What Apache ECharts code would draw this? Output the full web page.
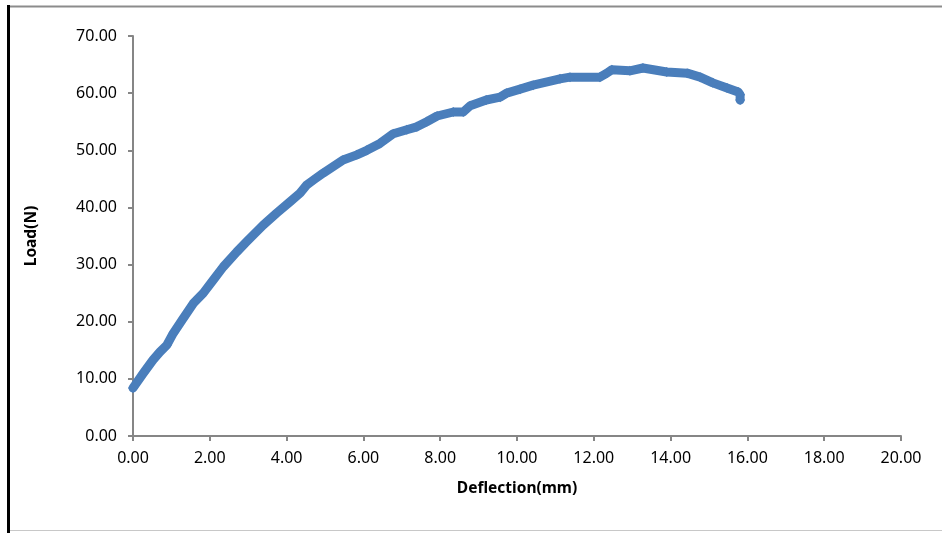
<!DOCTYPE html>
<html>
<head>
<meta charset="utf-8">
<script src="https://cdn.jsdelivr.net/npm/echarts@6/dist/echarts.min.js"></script>
<style>
  html, body { margin: 0; padding: 0; background: #fff; }
  #chart { width: 942px; height: 533px; }
</style>
</head>
<body>
<div id="chart"></div>
<script>
// 读图得到的数据：挠度(mm) 与 载荷(N)
const deflection = [0.00, 0.27, 0.52, 0.70, 0.88, 1.05, 1.31, 1.57, 1.83, 2.09, 2.35, 2.70, 2.96, 3.39, 3.74, 4.09, 4.35, 4.52, 4.70, 4.95, 5.47, 5.83, 6.09, 6.43, 6.78, 7.13, 7.39, 7.65, 7.92, 8.34, 8.60, 8.78, 9.20, 9.56, 9.73, 10.08, 10.42, 11.12, 11.38, 12.16, 12.34, 12.47, 12.94, 13.28, 13.90, 14.43, 14.77, 15.10, 15.47, 15.76, 15.81, 15.81]
const load = [8.4, 11.0, 13.3, 14.7, 15.9, 18.0, 20.6, 23.2, 25.0, 27.3, 29.6, 32.2, 34.0, 36.9, 39.0, 41.0, 42.5, 43.9, 44.8, 46.0, 48.3, 49.2, 50.0, 51.2, 52.9, 53.6, 54.1, 55.0, 56.0, 56.7, 56.7, 57.8, 58.8, 59.3, 60.0, 60.7, 61.4, 62.5, 62.8, 62.8, 63.5, 64.1, 63.9, 64.4, 63.7, 63.5, 62.8, 61.8, 60.9, 60.2, 59.7, 58.8]

const xName = 'Deflection(mm)'
const yName = 'Load(N)'

const chart = echarts.init(document.getElementById('chart'))

const points = deflection.map((x, i) => [x, load[i]])

const axisLineGray = '#868686'
const font = 'Noto Sans'

chart.setOption({
  animation: false,
  grid: { left: 133, right: 41, top: 36, bottom: 97 },
  xAxis: {
    type: 'value',
    min: 0, max: 20, interval: 2,
    name: xName,
    nameLocation: 'middle',
    nameGap: 45,
    nameTextStyle: { fontFamily: font, fontSize: 15.5, fontWeight: 'bold', color: '#000' },
    axisLine: { show: true, lineStyle: { color: axisLineGray, width: 2 } },
    axisTick: { show: true, length: 5, lineStyle: { color: axisLineGray, width: 2 } },
    axisLabel: {
      margin: 14,
      fontFamily: font, fontSize: 16, color: '#000',
      formatter: v => v.toFixed(2)
    },
    splitLine: { show: false }
  },
  yAxis: {
    type: 'value',
    min: 0, max: 70, interval: 10,
    name: yName,
    nameLocation: 'middle',
    nameGap: 93,
    nameTextStyle: { fontFamily: font, fontSize: 15.5, fontWeight: 'bold', color: '#000' },
    axisLine: { show: true, lineStyle: { color: axisLineGray, width: 2 } },
    axisTick: { show: true, length: 5, lineStyle: { color: axisLineGray, width: 2 } },
    axisLabel: {
      margin: 16,
      fontFamily: font, fontSize: 16, color: '#000',
      formatter: v => v.toFixed(2)
    },
    splitLine: { show: false }
  },
  series: [{
    type: 'line',
    data: points,
    symbol: 'diamond',
    symbolSize: 10,
    showSymbol: true,
    itemStyle: { color: '#4a7ebb' },
    lineStyle: { color: '#4a7ebb', width: 9, cap: 'round', join: 'round' }
  }],
  graphic: [
    // 外框
    { type: 'rect', shape: { x: 7, y: 5, width: 3, height: 528 }, style: { fill: '#000' } },
    { type: 'line', shape: { x1: 10, y1: 6.5, x2: 942, y2: 6.5 }, style: { stroke: '#8c8c8c', lineWidth: 2 } },
    { type: 'line', shape: { x1: 10, y1: 530.5, x2: 942, y2: 530.5 }, style: { stroke: '#c8c8c8', lineWidth: 1 } }
  ]
})
</script>
</body>
</html>
